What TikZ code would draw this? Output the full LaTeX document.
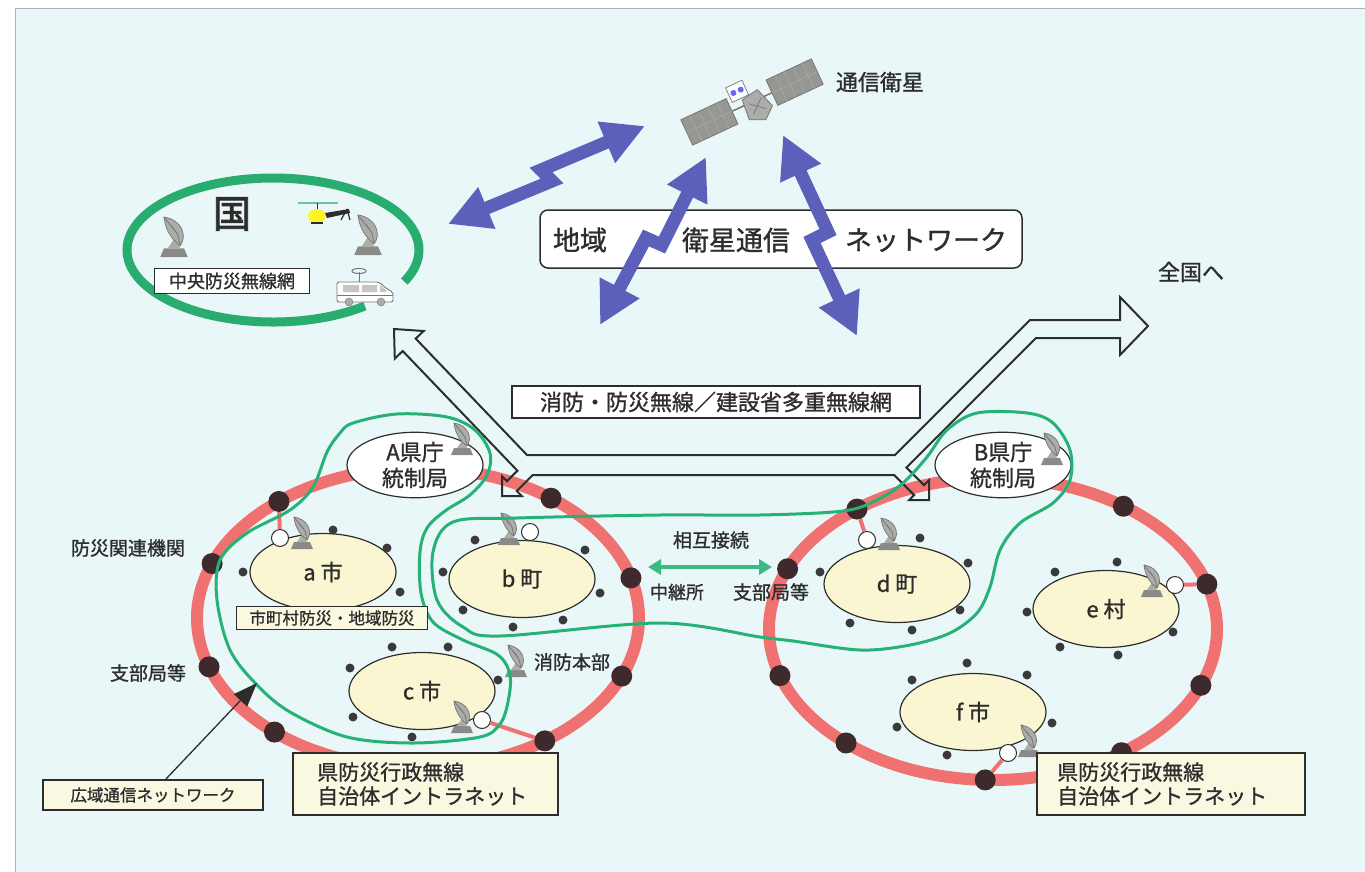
\documentclass[tikz,border=0pt]{standalone}
\usepackage{fontspec}
\setmainfont{Noto Sans CJK JP}
\newfontfamily\medjp{Noto Sans CJK JP}[FakeBold=1.1]
\newfontfamily\heavyjp{Noto Sans CJK JP}[FakeBold=2.5]
\usetikzlibrary{arrows.meta,calc,shapes.geometric}

\definecolor{bgcyan}{RGB}{234,247,248}
\definecolor{framegray}{RGB}{170,178,180}
\definecolor{txt}{RGB}{45,45,45}
\definecolor{ringred}{RGB}{240,114,112}
\definecolor{hubdark}{RGB}{62,42,44}
\definecolor{dotdark}{RGB}{58,58,60}
\definecolor{cityfill}{RGB}{250,246,210}
\definecolor{notefill}{RGB}{251,248,226}
\definecolor{loopgreen}{RGB}{38,178,118}
\definecolor{kunigreen}{RGB}{40,172,112}
\definecolor{satblue}{RGB}{92,96,186}
\definecolor{panelgray}{RGB}{150,150,146}
\definecolor{antgray}{RGB}{172,172,170}
\definecolor{antedge}{RGB}{118,118,116}

\tikzset{
  antenna/.pic={
    \fill[antgray!80!black] (-11,0) -- (11,0) -- (8,-7) -- (-8,-7) -- cycle;
    \fill[antgray] (-5,-7) -- (5,-7) -- (1,-16) -- cycle;
    \filldraw[fill=antgray, draw=antedge, line width=0.7pt]
      (-8,-32) .. controls (6,-30) and (11,-17) .. (5,-9)
      .. controls (-2,-14) and (-7,-22) .. (-8,-32) -- cycle;
    \draw[antedge, line width=0.8pt] (-8,-32) -- (3,-18) -- (5,-9) (-2,-25) -- (3,-18);
  },
  van/.pic={
    \draw[antedge, line width=0.8pt] (-6,-20) -- (-6,-10);
    \draw[antedge, line width=1pt] (-6,-21) ellipse [x radius=7, y radius=2.5];
    \filldraw[fill=white, draw=antedge, line width=0.9pt, rounded corners=2pt]
      (-28,10) -- (-28,-10) -- (14,-10) -- (22,-3) -- (28,0) -- (28,10) -- cycle;
    \fill[antgray!70] (-22,-7) rectangle (-6,0) (-3,-7) rectangle (12,0);
    \fill[antgray!70] (15,-7) -- (21,-2) -- (21,0) -- (15,0) -- cycle;
    \draw[antedge, line width=0.6pt] (-28,3) -- (28,3);
    \filldraw[fill=antgray, draw=antedge] (-16,10) circle [radius=4] (16,10) circle [radius=4];
  },
  heli/.pic={
    \draw[kunigreen!70, line width=2.5pt] (-19,-13) -- (21,-13);
    \draw[txt, line width=1pt] (0,-13) -- (0,-7);
    \fill[yellow!85!white] (0,0) ellipse [x radius=9, y radius=7];
    \draw[txt, line width=1.2pt] (-6,7) -- (6,7);
    \fill[txt] (8,-3) -- (32,-7) -- (33,-3) -- (10,2) -- cycle;
    \draw[txt, line width=1.2pt] (30,-7) -- (24,4) (30,-7) -- (33,4);
  },
}

\begin{document}
\begin{tikzpicture}[x=1pt,y=-1pt,
  lbl/.style={text=txt, inner sep=0pt, font=\fontsize{#1}{#1}\selectfont\medjp},
  notebox/.style={draw=txt, line width=1.2pt, fill=notefill, inner sep=0pt},
  whitebox/.style={draw=txt, line width=1.2pt, fill=white, inner sep=0pt},
  city/.style={ellipse, draw=txt, line width=1.2pt, fill=cityfill, minimum width=146pt,
    minimum height=77pt, inner sep=0pt, text=txt, font=\fontsize{22}{22}\selectfont\medjp},
  office/.style={ellipse, draw=txt, line width=1.2pt, fill=white, minimum width=136pt,
    minimum height=64pt, inner sep=0pt, text=txt, align=center, font=\fontsize{22}{26}\selectfont\medjp},
  hub/.style={circle, fill=hubdark, minimum size=21pt, inner sep=0pt},
  sdot/.style={circle, fill=dotdark, minimum size=9pt, inner sep=0pt},
  wcirc/.style={circle, draw=txt, line width=1pt, fill=white, minimum size=17pt, inner sep=0pt},
  redring/.style={draw=ringred, line width=12pt},
  redlink/.style={draw=ringred, line width=4pt},
  looppath/.style={draw=loopgreen, line width=3pt},
  satarrow/.style={draw=satblue, line width=13pt, line join=miter,
    {Triangle[length=42pt,width=42pt]}-{Triangle[length=42pt,width=42pt]}},
  band/.style={draw=txt, line width=2pt, line join=miter},
]
\useasboundingbox (0,0) rectangle (1365,871);
\fill[white] (0,0) rectangle (1365,871);
\filldraw[fill=bgcyan, draw=framegray, line width=1pt] (15,8) rectangle (1375,880);

% ---------- national network ----------
\draw[kunigreen, line width=9pt] (273,250) ++(51:146 and 72)
  arc[start angle=51, end angle=386, x radius=146, y radius=72];
\node[text=txt, inner sep=0pt, font=\fontsize{38}{38}\selectfont\heavyjp] (kuni) at (232,214) {国};
\pic at (174,257) [scale=1.25] {antenna};
\pic at (368,255) [scale=1.25] {antenna};
\pic at (317,216) {heli};
\pic at (365,292) {van};
\node[whitebox, minimum width=155pt, minimum height=25pt, lbl=18] (central) at (232,281) {中央防災無線網};

% ---------- satellite ----------
\begin{scope}[shift={(752,102)}, rotate=25]
  \foreach \s in {-1,1} {
    \filldraw[fill=panelgray, draw=antedge, line width=0.8pt] ({\s*47-25},-14) rectangle ({\s*47+25},14);
    \foreach \k in {-15,-5,5,15} \draw[antgray, line width=0.5pt] ({\s*47+\k},-14) -- ({\s*47+\k},14);
    \draw[antgray, line width=0.5pt] ({\s*47-25},0) -- ({\s*47+25},0);
  }
  \draw[antedge, line width=1.5pt] (-22,0) -- (22,0);
  \filldraw[fill=antgray, draw=antedge, line width=0.8pt] (-8,-6) -- (10,-9) -- (17,12) -- (5,22) -- (-10,15) -- cycle;
  \draw[antedge, line width=0.7pt] (-4,12) -- (10,0) (-4,0) -- (10,12);
  \filldraw[fill=white, draw=antedge, line width=0.7pt] (-18,-24) rectangle (0,-8);
  \fill[blue!60] (-13,-16) circle [radius=3] (-5,-16) circle [radius=3];
\end{scope}
\coordinate (sat) at (752,102);
\node[lbl=22] (satlabel) at (880,82) {通信衛星};

% regional satellite network label box
\draw[txt, fill=white, line width=1.5pt, rounded corners=8pt] (540,210) rectangle (1022,268);
\node[lbl=27] (chiiki) at (580,240) {地域};
\node[lbl=27] (eisei) at (736,240) {衛星通信};
\node[lbl=27] (netw) at (926,240) {ネットワーク};

% satellite links (zig-zag radio paths)
\coordinate (s1a) at (448,224); \coordinate (s1m) at (541,170); \coordinate (s1n) at (552,181); \coordinate (s1b) at (645,126);
\coordinate (s2a) at (706,157); \coordinate (s2m) at (646,238); \coordinate (s2n) at (662,245); \coordinate (s2b) at (600,325);
\coordinate (s3a) at (783,135); \coordinate (s3m) at (812,240); \coordinate (s3n) at (828,232); \coordinate (s3b) at (857,336);
\draw[satarrow] (s1a) -- (s1n) -- (s1m) -- (s1b);
\draw[satarrow] (s2a) -- (s2n) -- (s2m) -- (s2b);
\draw[satarrow] (s3a) -- (s3n) -- (s3m) -- (s3b);

\node[lbl=22] (zenkoku) at (1191,272) {全国へ};
\node[whitebox, minimum width=408pt, minimum height=32pt, lbl=22] (musen) at (716,402)
  {消防・防災無線／建設省多重無線網};

% ---------- prefecture rings ----------
\coordinate (Lc) at (418,618);
\coordinate (Rc) at (993,629);
\draw[redring] (Lc) ellipse [x radius=221, y radius=150];
\draw[redring] (Rc) ellipse [x radius=224, y radius=151];

\foreach \nm/\t in {L1/-129,L2/-53,L3/-158.7,L4/-15.5,L5/161,L6/22.8,L7/130.5,L8/55}
  \node[hub] (\nm) at ($(Lc)+({221*cos(\t)},{150*sin(\t)})$) {};
\foreach \nm/\t in {R1/-127.4,R2/-54.4,R3/-156.5,R4/-17.3,R5/162,R6/21.9,R7/131,R8/55,R9/92}
  \node[hub] (\nm) at ($(Rc)+({224*cos(\t)},{151*sin(\t)})$) {};

% prefectural control stations
\node[office] (prefA) at (415,465) {A県庁\\統制局};
\node[office] (prefB) at (1003,465) {B県庁\\統制局};

% municipalities
\node[city] (ca) at (323,572) {a 市};
\node[city] (cb) at (522,579) {b 町};
\node[city] (cc) at (422,691) {c 市};
\node[city] (cd) at (897,584) {d 町};
\node[city] (ce) at (1106,609) {e 村};
\node[city] (cf) at (973,712) {f 市};

% terminal stations around each municipality
\foreach \p in {(243,572),(333,530),(387,548),(400,592),
                (443,572),(475,540),(585,550),(600,593),(463,610),(513,627),(563,620),
                (392,647),(448,647),(350,668),(498,680),(353,717),(412,737),
                (920,538),(968,563),(820,572),(960,610),(850,623),(912,630),
                (1055,572),(1117,562),(1027,612),(1173,632),(1060,647),(1118,655),
                (967,663),(1027,675),(912,680),(1052,723),(897,727),(947,755)}
  \node[sdot] at \p {};

% relay points on municipalities and their links to the ring
\node[wcirc] (wa) at (280,538) {};
\node[wcirc] (wb) at (530,532) {};
\node[wcirc] (wc) at (482,720) {};
\node[wcirc] (wd) at (867,540) {};
\node[wcirc] (we) at (1175,585) {};
\node[wcirc] (wf) at (1008,753) {};
\draw[redlink] (wa) -- (L1);
\draw[redlink] (wc) -- (L8);
\draw[redlink] (wd) -- (R1);
\draw[redlink] (we) -- (R4);
\draw[redlink] (wf) -- (R9);

% antennas
\foreach \p in {(302,549),(509,545),(462,733),(516,677),(462,455),
                (889,550),(1152,597),(1029,757),(1052,465)}
  \pic at \p {antenna};

% ---------- disaster radio trunk (hollow arrow) ----------
\draw[band] (532.8,475) -- (894.1,475) -- (914.1,495) -- (909.2,500) -- (929,500)
  -- (929,480.2) -- (924,485.1) -- (906.4,467.5) -- (1036,338) -- (1120,338)
  -- (1120,355) -- (1148,326) -- (1120,297) -- (1120,320) -- (1030,320)
  -- (895,455) -- (527,455) -- (415.7,338.6) -- (423.6,331) -- (394,329)
  -- (394.8,358.6) -- (402.7,351) -- (517.4,470.7) -- (507,481.1) -- (502,476.2)
  -- (502,496) -- (521.8,496) -- (516.8,491) -- cycle;

% ---------- wide-area network loops ----------
\draw[looppath] plot[smooth cycle, tension=0.55] coordinates {
  (353,423) (397,414) (447,417) (475,430) (490,453) (487,475) (470,495) (445,511)
  (427,528) (420,552) (421,593) (433,622) (463,640) (498,655) (510,675) (508,702)
  (500,724) (480,737) (413,743) (347,737) (290,712) (257,685) (230,650) (217,600)
  (220,560) (247,533) (290,510) (313,487) (327,452) (340,433)};
\draw[looppath] plot[smooth cycle, tension=0.55] coordinates {
  (453,522) (517,518) (660,515) (760,515) (843,511) (877,500) (903,483) (927,457)
  (947,430) (977,413) (1027,413) (1053,423) (1070,450) (1070,480) (1053,503)
  (1020,523) (1000,550) (990,587) (977,613) (950,633) (910,645) (860,650)
  (793,641) (760,637) (660,623) (500,636) (463,627) (437,600) (433,552)};

% ---------- labels ----------
\node[notebox, minimum width=191pt, minimum height=23pt, lbl=16.5] (muni) at (332,618) {市町村防災・地域防災};
\node[lbl=19] (kanren) at (128,548) {防災関連機関};
\node[lbl=19] (shibuL) at (148,673) {支部局等};
\node[lbl=19] (shobo) at (572,662) {消防本部};
\node[lbl=19] (sogo) at (711,540) {相互接続};
\node[lbl=18] (chukei) at (677,592) {中継所};
\node[lbl=19] (shibuR) at (771,592) {支部局等};

\coordinate (linkL) at (648,567);
\coordinate (linkR) at (772,567);
\draw[draw=loopgreen!90!white, line width=4.5pt,
  {Triangle[length=13pt,width=15pt]}-{Triangle[length=13pt,width=15pt]}] (linkL) -- (linkR);

\node[notebox, minimum width=220pt, minimum height=30pt, lbl=16.5] (kouiki) at (153,795) {広域通信ネットワーク};
\coordinate (kouikitip) at (257,683);
\draw[txt, line width=1.3pt, -{Triangle[length=24pt,width=18pt]}] (165,780) -- (kouikitip);

\node[notebox, minimum width=265pt, minimum height=62pt] (boxL) at (425.5,784) {};
\node[lbl=21, font=\fontsize{21}{24}\selectfont\medjp, align=left, anchor=west] (boxLtext) at (317,784)
  {県防災行政無線\\自治体イントラネット};
\node[notebox, minimum width=268pt, minimum height=62pt] (boxR) at (1171,784) {};
\node[lbl=21, font=\fontsize{21}{24}\selectfont\medjp, align=left, anchor=west] (boxRtext) at (1057,784)
  {県防災行政無線\\自治体イントラネット};
\end{tikzpicture}
\end{document}
